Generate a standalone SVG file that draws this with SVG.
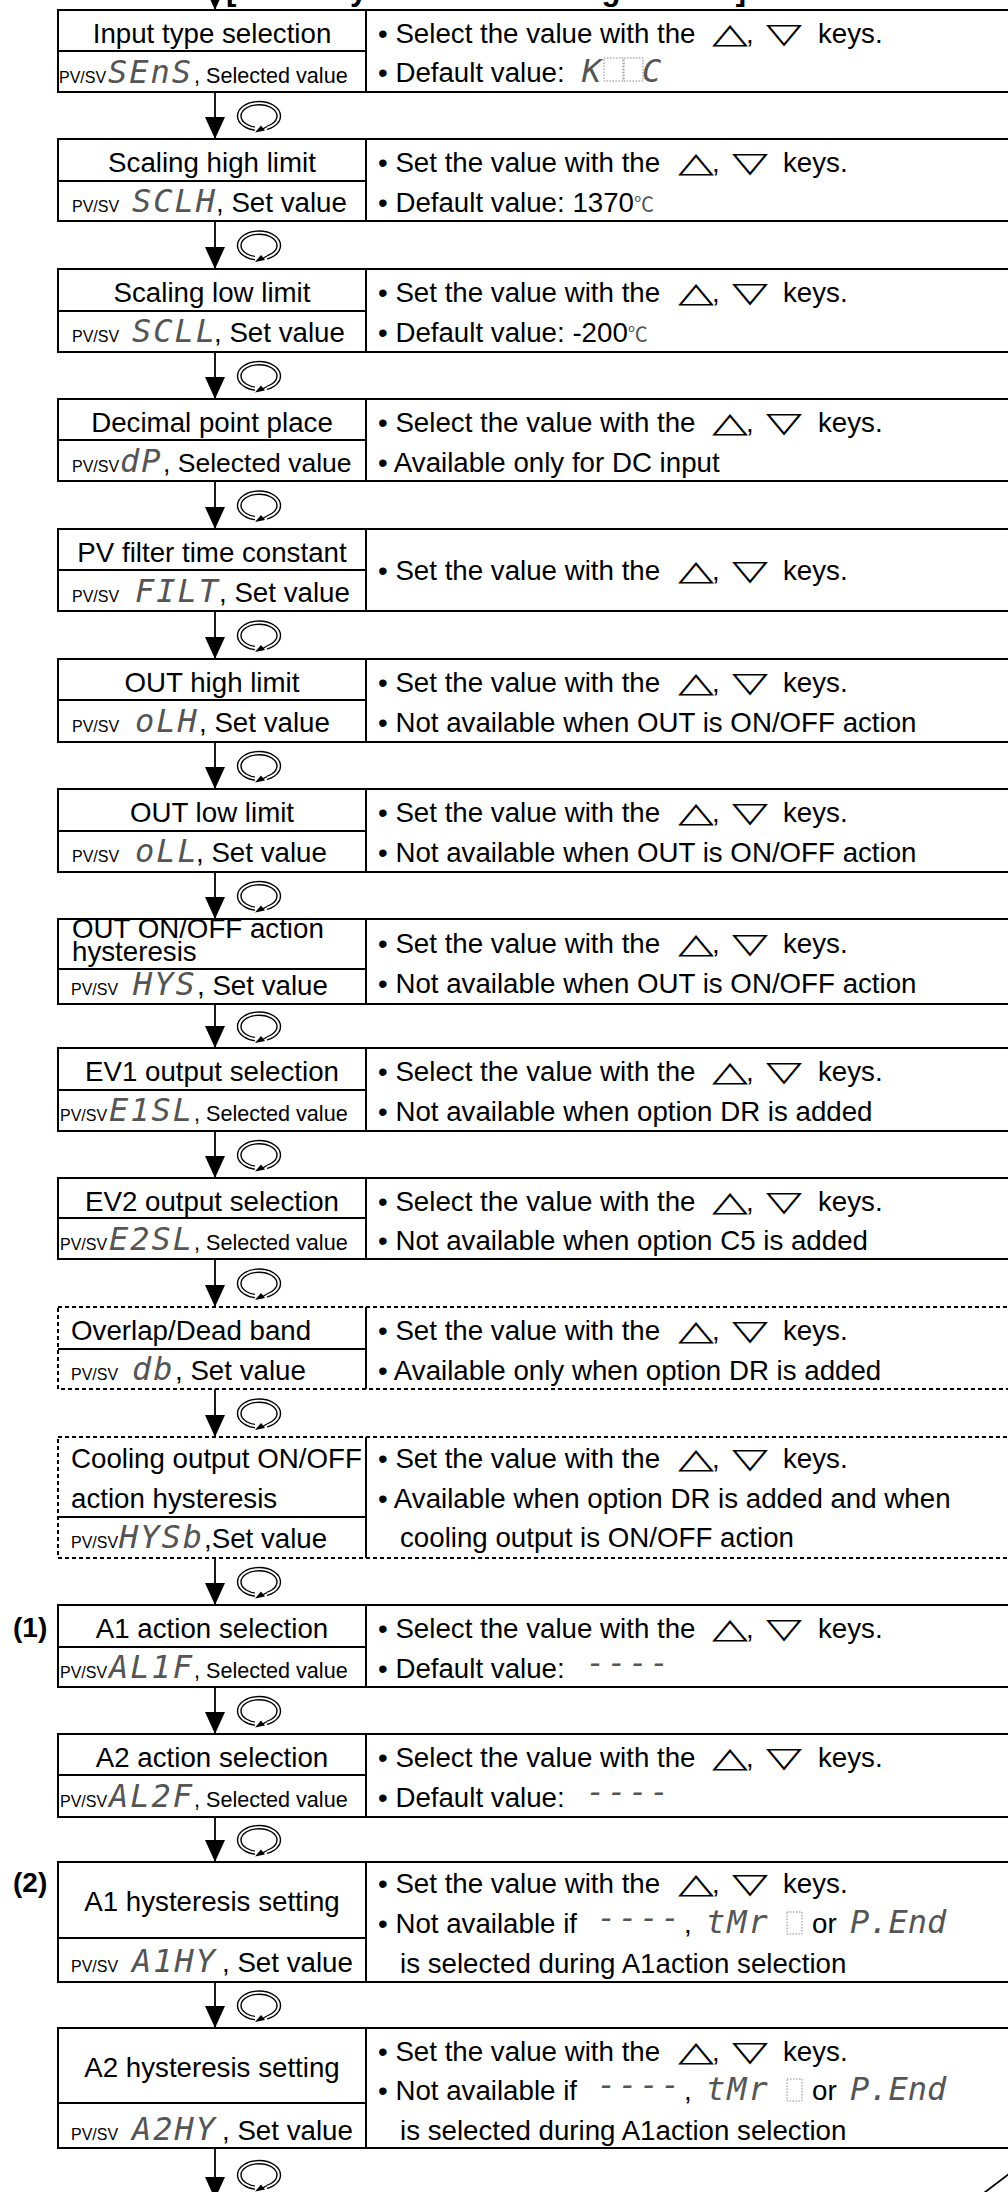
<svg xmlns="http://www.w3.org/2000/svg" xmlns:xlink="http://www.w3.org/1999/xlink" width="1008" height="2192" viewBox="0 0 1008 2192">
<style>
.bx{fill:none;stroke:#000;stroke-width:2}
.ln{stroke:#000;stroke-width:2}
.dsh{stroke-dasharray:4 3}
text{font-family:"Liberation Sans",Arial,sans-serif;fill:#000}
.t{font-size:27.7px}
.c{text-anchor:middle}
.pv{font-size:16px}
.sv{font-size:21.6px}
.seg{font-family:"DejaVu Sans Mono",monospace;font-style:italic;font-size:32px;fill:#555;letter-spacing:2px}
.tri{font-family:"DejaVu Sans",sans-serif;font-size:28px}
.deg{font-family:"Noto Sans CJK JP",sans-serif;font-size:20px;fill:#555}
.db{fill:none;stroke:#888;stroke-width:1;stroke-dasharray:1.5 1.5}
.hd{font-weight:bold;font-size:31px}
.lbl{font-weight:bold;font-size:28px}
.cn{fill:none;stroke:#000;stroke-width:1.8}
</style>
<defs>
<marker id="ah" markerUnits="userSpaceOnUse" markerWidth="24" markerHeight="24" viewBox="0 -12 24 24" refX="22" refY="0" orient="auto"><path d="M0,-10 L22,0 L0,10 z" fill="#000"/></marker>
<g id="rot">
<ellipse rx="21.5" ry="14.5" fill="none" stroke="#000" stroke-width="1.4"/>
<ellipse rx="18" ry="11.3" fill="none" stroke="#000" stroke-width="1.4"/>
<rect x="-4" y="9" width="12" height="8" fill="#fff"/>
<path d="M8,10.5 L2,14" fill="none" stroke="#000" stroke-width="1.4"/>
<path d="M-4,16.5 L2,9.5 L6,14.5 z" fill="#000"/>
</g>
</defs>
<rect width="1008" height="2192" fill="#fff"/>

<text class="hd" x="226" y="0">[Auxiliary Function Setting Mode 2]</text>

<g id="connectors">
<line class="cn" x1="215" y1="-20" x2="215" y2="10" marker-end="url(#ah)"/>
<line class="cn" x1="215" y1="92" x2="215" y2="139" marker-end="url(#ah)"/><use href="#rot" x="259" y="116"/>
<line class="cn" x1="215" y1="221" x2="215" y2="269" marker-end="url(#ah)"/><use href="#rot" x="259" y="245.5"/>
<line class="cn" x1="215" y1="352" x2="215" y2="399" marker-end="url(#ah)"/><use href="#rot" x="259" y="376"/>
<line class="cn" x1="215" y1="481" x2="215" y2="529" marker-end="url(#ah)"/><use href="#rot" x="259" y="505.5"/>
<line class="cn" x1="215" y1="611" x2="215" y2="659" marker-end="url(#ah)"/><use href="#rot" x="259" y="635.5"/>
<line class="cn" x1="215" y1="742" x2="215" y2="789" marker-end="url(#ah)"/><use href="#rot" x="259" y="766"/>
<line class="cn" x1="215" y1="872" x2="215" y2="919" marker-end="url(#ah)"/><use href="#rot" x="259" y="896"/>
<line class="cn" x1="215" y1="1004" x2="215" y2="1048" marker-end="url(#ah)"/><use href="#rot" x="259" y="1026.5"/>
<line class="cn" x1="215" y1="1131" x2="215" y2="1178" marker-end="url(#ah)"/><use href="#rot" x="259" y="1155"/>
<line class="cn" x1="215" y1="1259" x2="215" y2="1307" marker-end="url(#ah)"/><use href="#rot" x="259" y="1283.5"/>
<line class="cn" x1="215" y1="1389" x2="215" y2="1437" marker-end="url(#ah)"/><use href="#rot" x="259" y="1413.5"/>
<line class="cn" x1="215" y1="1558" x2="215" y2="1605" marker-end="url(#ah)"/><use href="#rot" x="259" y="1582"/>
<line class="cn" x1="215" y1="1687" x2="215" y2="1734" marker-end="url(#ah)"/><use href="#rot" x="259" y="1711"/>
<line class="cn" x1="215" y1="1817" x2="215" y2="1862" marker-end="url(#ah)"/><use href="#rot" x="259" y="1840"/>
<line class="cn" x1="215" y1="1982" x2="215" y2="2028" marker-end="url(#ah)"/><use href="#rot" x="259" y="2005.5"/>
<line class="cn" x1="215" y1="2148" x2="215" y2="2199" marker-end="url(#ah)"/><use href="#rot" x="259" y="2175"/>
<line class="cn" x1="980" y1="2196" x2="1014" y2="2170"/>
</g>

<g id="n1">
<rect class="bx" x="58" y="10" width="960" height="82"/>
<line class="ln" x1="366" y1="10" x2="366" y2="92"/><line class="ln" x1="58" y1="51" x2="366" y2="51"/>
<text class="t c" x="212" y="43">Input type selection</text>
<text class="pv" x="59" y="83">PV/SV</text><text class="seg" x="108" y="83">SEnS</text><text class="sv" x="194" y="83">, Selected value</text>
<text class="t" x="378" y="43">• Select the value with the</text><text class="tri" x="712" y="43" textLength="36" lengthAdjust="spacingAndGlyphs">△</text><text class="t" x="746" y="43">,</text><text class="tri" x="766" y="43" textLength="36" lengthAdjust="spacingAndGlyphs">▽</text><text class="t" x="818" y="43">keys.</text>
<text class="t" x="378" y="82">• Default value:</text>
<text class="seg" x="582" y="82">K</text>
<rect class="db" x="604" y="58" width="19" height="23"/><rect class="db" x="624" y="58" width="19" height="23"/>
<text class="seg" x="642" y="82">C</text>
</g>

<g id="n2">
<rect class="bx" x="58" y="139" width="960" height="82"/>
<line class="ln" x1="366" y1="139" x2="366" y2="221"/><line class="ln" x1="58" y1="181" x2="366" y2="181"/>
<text class="t c" x="212" y="172">Scaling high limit</text>
<text class="pv" x="72" y="212">PV/SV</text><text class="seg" x="132" y="212">SCLH</text><text class="t" x="216" y="212">, Set value</text>
<text class="t" x="378" y="172">• Set the value with the</text><text class="tri" x="678" y="172" textLength="36" lengthAdjust="spacingAndGlyphs">△</text><text class="t" x="712" y="172">,</text><text class="tri" x="732" y="172" textLength="36" lengthAdjust="spacingAndGlyphs">▽</text><text class="t" x="783" y="172">keys.</text>
<text class="t" x="378" y="212">• Default value: 1370<tspan class="deg">℃</tspan></text>
</g>

<g id="n3">
<rect class="bx" x="58" y="269" width="960" height="83"/>
<line class="ln" x1="366" y1="269" x2="366" y2="352"/><line class="ln" x1="58" y1="311" x2="366" y2="311"/>
<text class="t c" x="212" y="302">Scaling low limit</text>
<text class="pv" x="72" y="342">PV/SV</text><text class="seg" x="132" y="342">SCLL</text><text class="t" x="214" y="342">, Set value</text>
<text class="t" x="378" y="302">• Set the value with the</text><text class="tri" x="678" y="302" textLength="36" lengthAdjust="spacingAndGlyphs">△</text><text class="t" x="712" y="302">,</text><text class="tri" x="732" y="302" textLength="36" lengthAdjust="spacingAndGlyphs">▽</text><text class="t" x="783" y="302">keys.</text>
<text class="t" x="378" y="342">• Default value: -200<tspan class="deg">℃</tspan></text>
</g>

<g id="n4">
<rect class="bx" x="58" y="399" width="960" height="82"/>
<line class="ln" x1="366" y1="399" x2="366" y2="481"/><line class="ln" x1="58" y1="440" x2="366" y2="440"/>
<text class="t c" x="212" y="432">Decimal point place</text>
<text class="pv" x="72" y="472">PV/SV</text><text class="seg" x="120" y="472">dP</text><text class="t" x="163" y="472" style="font-size:26.5px">, Selected value</text>
<text class="t" x="378" y="432">• Select the value with the</text><text class="tri" x="712" y="432" textLength="36" lengthAdjust="spacingAndGlyphs">△</text><text class="t" x="746" y="432">,</text><text class="tri" x="766" y="432" textLength="36" lengthAdjust="spacingAndGlyphs">▽</text><text class="t" x="818" y="432">keys.</text>
<text class="t" x="378" y="472">• Available only for DC input</text>
</g>

<g id="n5">
<rect class="bx" x="58" y="529" width="960" height="82"/>
<line class="ln" x1="366" y1="529" x2="366" y2="611"/><line class="ln" x1="58" y1="570" x2="366" y2="570"/>
<text class="t c" x="212" y="562">PV filter time constant</text>
<text class="pv" x="72" y="602">PV/SV</text><text class="seg" x="135" y="602">FILT</text><text class="t" x="219" y="602">, Set value</text>
<text class="t" x="378" y="580">• Set the value with the</text><text class="tri" x="678" y="580" textLength="36" lengthAdjust="spacingAndGlyphs">△</text><text class="t" x="712" y="580">,</text><text class="tri" x="732" y="580" textLength="36" lengthAdjust="spacingAndGlyphs">▽</text><text class="t" x="783" y="580">keys.</text>
</g>

<g id="n6">
<rect class="bx" x="58" y="659" width="960" height="83"/>
<line class="ln" x1="366" y1="659" x2="366" y2="742"/><line class="ln" x1="58" y1="700" x2="366" y2="700"/>
<text class="t c" x="212" y="692">OUT high limit</text>
<text class="pv" x="72" y="732">PV/SV</text><text class="seg" x="135" y="732">oLH</text><text class="t" x="199" y="732">, Set value</text>
<text class="t" x="378" y="692">• Set the value with the</text><text class="tri" x="678" y="692" textLength="36" lengthAdjust="spacingAndGlyphs">△</text><text class="t" x="712" y="692">,</text><text class="tri" x="732" y="692" textLength="36" lengthAdjust="spacingAndGlyphs">▽</text><text class="t" x="783" y="692">keys.</text>
<text class="t" x="378" y="732">• Not available when OUT is ON/OFF action</text>
</g>

<g id="n7">
<rect class="bx" x="58" y="789" width="960" height="83"/>
<line class="ln" x1="366" y1="789" x2="366" y2="872"/><line class="ln" x1="58" y1="831" x2="366" y2="831"/>
<text class="t c" x="212" y="822">OUT low limit</text>
<text class="pv" x="72" y="862">PV/SV</text><text class="seg" x="135" y="862">oLL</text><text class="t" x="196" y="862">, Set value</text>
<text class="t" x="378" y="822">• Set the value with the</text><text class="tri" x="678" y="822" textLength="36" lengthAdjust="spacingAndGlyphs">△</text><text class="t" x="712" y="822">,</text><text class="tri" x="732" y="822" textLength="36" lengthAdjust="spacingAndGlyphs">▽</text><text class="t" x="783" y="822">keys.</text>
<text class="t" x="378" y="862">• Not available when OUT is ON/OFF action</text>
</g>

<g id="n8">
<rect class="bx" x="58" y="919" width="960" height="85"/>
<line class="ln" x1="366" y1="919" x2="366" y2="1004"/><line class="ln" x1="58" y1="969" x2="366" y2="969"/>
<text class="t" x="72" y="938">OUT ON/OFF action</text>
<text class="t" x="72" y="961">hysteresis</text>
<text class="pv" x="71" y="995">PV/SV</text><text class="seg" x="133" y="995">HYS</text><text class="t" x="197" y="995">, Set value</text>
<text class="t" x="378" y="953">• Set the value with the</text><text class="tri" x="678" y="953" textLength="36" lengthAdjust="spacingAndGlyphs">△</text><text class="t" x="712" y="953">,</text><text class="tri" x="732" y="953" textLength="36" lengthAdjust="spacingAndGlyphs">▽</text><text class="t" x="783" y="953">keys.</text>
<text class="t" x="378" y="993">• Not available when OUT is ON/OFF action</text>
</g>

<g id="n9">
<rect class="bx" x="58" y="1048" width="960" height="83"/>
<line class="ln" x1="366" y1="1048" x2="366" y2="1131"/><line class="ln" x1="58" y1="1090" x2="366" y2="1090"/>
<text class="t c" x="212" y="1081">EV1 output selection</text>
<text class="pv" x="60" y="1121">PV/SV</text><text class="seg" x="109" y="1121">E1SL</text><text class="sv" x="194" y="1121">, Selected value</text>
<text class="t" x="378" y="1081">• Select the value with the</text><text class="tri" x="712" y="1081" textLength="36" lengthAdjust="spacingAndGlyphs">△</text><text class="t" x="746" y="1081">,</text><text class="tri" x="766" y="1081" textLength="36" lengthAdjust="spacingAndGlyphs">▽</text><text class="t" x="818" y="1081">keys.</text>
<text class="t" x="378" y="1121">• Not available when option DR is added</text>
</g>

<g id="n10">
<rect class="bx" x="58" y="1178" width="960" height="81"/>
<line class="ln" x1="366" y1="1178" x2="366" y2="1259"/><line class="ln" x1="58" y1="1218" x2="366" y2="1218"/>
<text class="t c" x="212" y="1211">EV2 output selection</text>
<text class="pv" x="60" y="1250">PV/SV</text><text class="seg" x="109" y="1250">E2SL</text><text class="sv" x="194" y="1250">, Selected value</text>
<text class="t" x="378" y="1211">• Select the value with the</text><text class="tri" x="712" y="1211" textLength="36" lengthAdjust="spacingAndGlyphs">△</text><text class="t" x="746" y="1211">,</text><text class="tri" x="766" y="1211" textLength="36" lengthAdjust="spacingAndGlyphs">▽</text><text class="t" x="818" y="1211">keys.</text>
<text class="t" x="378" y="1250">• Not available when option C5 is added</text>
</g>

<g id="n11">
<rect class="bx dsh" x="58" y="1307" width="960" height="82"/>
<line class="ln" x1="366" y1="1307" x2="366" y2="1389"/><line class="ln" x1="58" y1="1349" x2="366" y2="1349"/>
<text class="t" x="71" y="1340">Overlap/Dead band</text>
<text class="pv" x="71" y="1380">PV/SV</text><text class="seg" x="132" y="1380">db</text><text class="t" x="175" y="1380">, Set value</text>
<text class="t" x="378" y="1340">• Set the value with the</text><text class="tri" x="678" y="1340" textLength="36" lengthAdjust="spacingAndGlyphs">△</text><text class="t" x="712" y="1340">,</text><text class="tri" x="732" y="1340" textLength="36" lengthAdjust="spacingAndGlyphs">▽</text><text class="t" x="783" y="1340">keys.</text>
<text class="t" x="378" y="1380">• Available only when option DR is added</text>
</g>

<g id="n12">
<rect class="bx dsh" x="58" y="1437" width="960" height="121"/>
<line class="ln" x1="366" y1="1437" x2="366" y2="1558"/><line class="ln" x1="58" y1="1517" x2="366" y2="1517"/>
<text class="t" x="71" y="1468">Cooling output ON/OFF</text>
<text class="t" x="71" y="1508">action hysteresis</text>
<text class="pv" x="71" y="1548">PV/SV</text><text class="seg" x="119" y="1548">HYSb</text><text class="t" x="204" y="1548">,Set value</text>
<text class="t" x="378" y="1468">• Set the value with the</text><text class="tri" x="678" y="1468" textLength="36" lengthAdjust="spacingAndGlyphs">△</text><text class="t" x="712" y="1468">,</text><text class="tri" x="732" y="1468" textLength="36" lengthAdjust="spacingAndGlyphs">▽</text><text class="t" x="783" y="1468">keys.</text>
<text class="t" x="378" y="1508">• Available when option DR is added and when</text>
<text class="t" x="400" y="1547">cooling output is ON/OFF action</text>
</g>

<g id="n13">
<text class="lbl" x="13" y="1637">(1)</text>
<rect class="bx" x="58" y="1605" width="960" height="82"/>
<line class="ln" x1="366" y1="1605" x2="366" y2="1687"/><line class="ln" x1="58" y1="1647" x2="366" y2="1647"/>
<text class="t c" x="212" y="1638">A1 action selection</text>
<text class="pv" x="60" y="1678">PV/SV</text><text class="seg" x="109" y="1678">AL1F</text><text class="sv" x="194" y="1678">, Selected value</text>
<text class="t" x="378" y="1638">• Select the value with the</text><text class="tri" x="712" y="1638" textLength="36" lengthAdjust="spacingAndGlyphs">△</text><text class="t" x="746" y="1638">,</text><text class="tri" x="766" y="1638" textLength="36" lengthAdjust="spacingAndGlyphs">▽</text><text class="t" x="818" y="1638">keys.</text>
<text class="t" x="378" y="1678">• Default value:</text><text class="seg" x="586" y="1674">----</text>
</g>

<g id="n14">
<rect class="bx" x="58" y="1734" width="960" height="83"/>
<line class="ln" x1="366" y1="1734" x2="366" y2="1817"/><line class="ln" x1="58" y1="1775" x2="366" y2="1775"/>
<text class="t c" x="212" y="1767">A2 action selection</text>
<text class="pv" x="60" y="1807">PV/SV</text><text class="seg" x="109" y="1807">AL2F</text><text class="sv" x="194" y="1807">, Selected value</text>
<text class="t" x="378" y="1767">• Select the value with the</text><text class="tri" x="712" y="1767" textLength="36" lengthAdjust="spacingAndGlyphs">△</text><text class="t" x="746" y="1767">,</text><text class="tri" x="766" y="1767" textLength="36" lengthAdjust="spacingAndGlyphs">▽</text><text class="t" x="818" y="1767">keys.</text>
<text class="t" x="378" y="1807">• Default value:</text><text class="seg" x="586" y="1803">----</text>
</g>

<g id="n15">
<text class="lbl" x="13" y="1892">(2)</text>
<rect class="bx" x="58" y="1862" width="960" height="120"/>
<line class="ln" x1="366" y1="1862" x2="366" y2="1982"/><line class="ln" x1="58" y1="1938" x2="366" y2="1938"/>
<text class="t c" x="212" y="1911">A1 hysteresis setting</text>
<text class="pv" x="71" y="1972">PV/SV</text><text class="seg" x="132" y="1972">A1HY</text><text class="t" x="222" y="1972">, Set value</text>
<text class="t" x="378" y="1893">• Set the value with the</text><text class="tri" x="678" y="1893" textLength="36" lengthAdjust="spacingAndGlyphs">△</text><text class="t" x="712" y="1893">,</text><text class="tri" x="732" y="1893" textLength="36" lengthAdjust="spacingAndGlyphs">▽</text><text class="t" x="783" y="1893">keys.</text>
<text class="t" x="378" y="1933">• Not available if</text><text class="seg" x="597" y="1929">----</text><text class="t" x="684" y="1933">,</text>
<text class="seg" x="706" y="1933">tMr</text><rect class="db" x="787" y="1912" width="15" height="22"/>
<text class="t" x="812" y="1933">or</text><text class="seg" x="850" y="1933" style="letter-spacing:0px">P.End</text>
<text class="t" x="400" y="1973">is selected during A1action selection</text>
</g>

<g id="n16">
<rect class="bx" x="58" y="2028" width="960" height="120"/>
<line class="ln" x1="366" y1="2028" x2="366" y2="2148"/><line class="ln" x1="58" y1="2103" x2="366" y2="2103"/>
<text class="t c" x="212" y="2077">A2 hysteresis setting</text>
<text class="pv" x="71" y="2140">PV/SV</text><text class="seg" x="132" y="2140">A2HY</text><text class="t" x="222" y="2140">, Set value</text>
<text class="t" x="378" y="2061">• Set the value with the</text><text class="tri" x="678" y="2061" textLength="36" lengthAdjust="spacingAndGlyphs">△</text><text class="t" x="712" y="2061">,</text><text class="tri" x="732" y="2061" textLength="36" lengthAdjust="spacingAndGlyphs">▽</text><text class="t" x="783" y="2061">keys.</text>
<text class="t" x="378" y="2100">• Not available if</text><text class="seg" x="597" y="2096">----</text><text class="t" x="684" y="2100">,</text>
<text class="seg" x="706" y="2100">tMr</text><rect class="db" x="787" y="2079" width="15" height="22"/>
<text class="t" x="812" y="2100">or</text><text class="seg" x="850" y="2100" style="letter-spacing:0px">P.End</text>
<text class="t" x="400" y="2140">is selected during A1action selection</text>
</g>
</svg>
